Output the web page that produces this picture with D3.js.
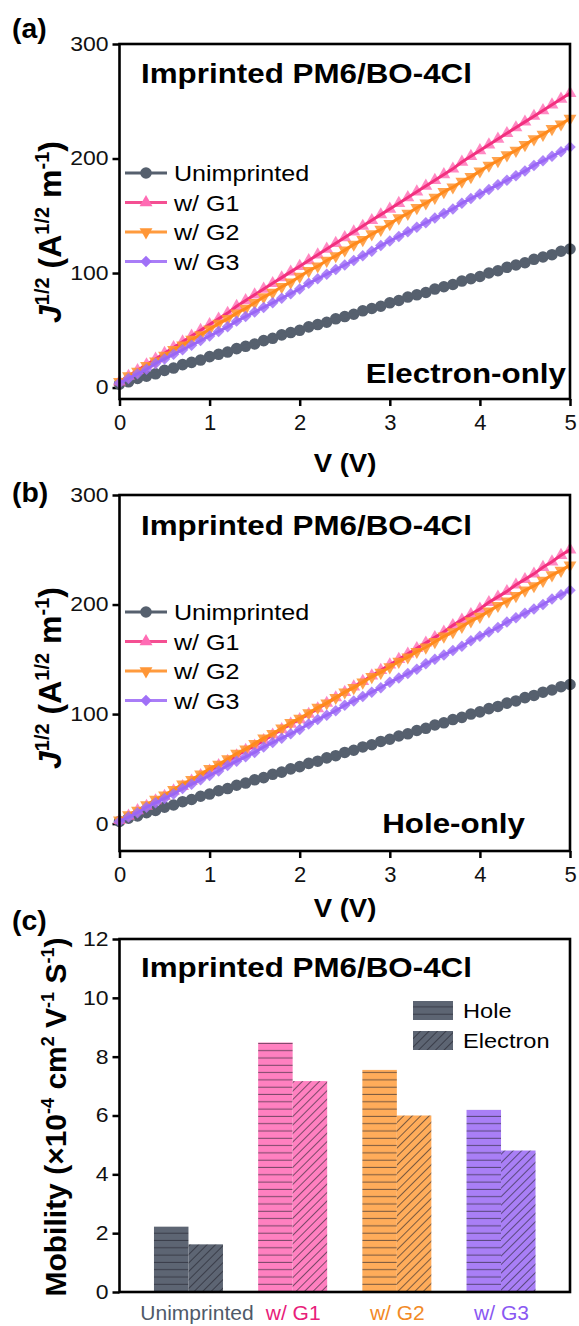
<!DOCTYPE html>
<html><head><meta charset="utf-8">
<script src="https://cdn.jsdelivr.net/npm/d3@7"></script>
<style>body{margin:0;background:#fff}svg{display:block;font-family:Arial,"Liberation Sans",sans-serif}</style>
</head><body>
<svg id="c" width="579" height="1326"></svg>
<script>
// ---------- DATA ----------
const voltage = [0,0.1,0.2,0.3,0.4,0.5,0.6,0.7,0.8,0.9,1.0,1.1,1.2,1.3,1.4,1.5,1.6,1.7,1.8,1.9,2.0,2.1,2.2,2.3,2.4,2.5,2.6,2.7,2.8,2.9,3.0,3.1,3.2,3.3,3.4,3.5,3.6,3.7,3.8,3.9,4.0,4.1,4.2,4.3,4.4,4.5,4.6,4.7,4.8,4.9,5.0];
const seriesNames = ["Unimprinted","w/ G1","w/ G2","w/ G3"];
// Panel (a) electron-only
const elecUnimprinted = [3,5,8,10,12,15,17,20,22,24,27,29,31,34,36,38,41,43,46,48,50,53,55,57,60,62,64,67,69,71,74,76,79,81,83,86,88,90,93,95,97,100,102,105,107,109,112,114,116,119,121];
const elecG1 = [5,10,15,20,25,30,35,40,45,50,55,60,65,71,76,81,86,91,96,101,106,111,116,121,126,131,136,141,146,151,156,161,166,171,176,181,186,191,197,202,207,212,217,222,227,232,237,242,247,252,257];
const elecG2 = [5,10,14,19,23,28,33,37,42,46,51,56,60,65,69,74,79,83,88,92,97,102,106,111,115,120,125,129,134,138,143,148,152,157,161,166,171,175,180,184,189,194,198,203,207,212,217,221,226,230,235];
const elecG3 = [4,8,12,16,21,25,29,33,37,41,45,49,53,58,62,66,70,74,78,82,86,91,95,99,103,107,111,115,119,124,128,132,136,140,144,148,152,156,161,165,169,173,177,181,185,189,194,198,202,206,210];
// Panel (b) hole-only
const holeUnimprinted = [2,5,7,10,12,15,17,20,22,25,27,30,32,35,37,40,42,45,47,50,52,55,57,60,62,65,67,70,72,75,77,80,82,85,87,90,92,95,97,100,102,105,107,110,112,115,117,120,122,125,127];
const holeG1 = [3,7,12,16,21,25,30,34,39,44,48,53,57,62,67,71,76,81,86,91,95,100,105,110,115,120,125,130,135,140,145,150,155,160,165,170,175,181,186,191,196,202,207,212,218,223,228,234,239,245,250];
const holeG2 = [3,8,12,17,22,26,31,36,40,45,50,54,59,64,68,73,78,82,87,92,96,101,106,110,115,120,124,129,134,138,143,148,152,157,161,166,171,175,180,185,189,194,199,203,208,213,217,222,227,231,236];
const holeG3 = [2,6,10,15,19,23,27,32,36,40,44,48,53,57,61,65,70,74,78,82,86,91,95,99,103,108,112,116,120,124,129,133,137,141,146,150,154,158,162,167,171,175,179,184,188,192,196,200,205,209,213];
// Panel (c) mobility (x10^-4 cm2 V-1 s-1)
const mobCategories = ["Unimprinted","w/ G1","w/ G2","w/ G3"];
const mobHole = [2.22,8.48,7.55,6.19];
const mobElectron = [1.62,7.17,6.0,4.81];
const jvTicksY = [0,100,200,300];
const jvTicksX = [0,1,2,3,4,5];
const mobTicksY = [0,2,4,6,8,10,12];

// ---------- STYLE ----------
const markerFill = ["#56606e","#ff6cb4","#ff9636","#a070f7"];
const lineColor = ["#56606e","#f2307f","#ff8a1c","#9a66f6"];
const markerOpacity = [1,0.8,0.88,0.85];
const symbols = ["circle","up","down","diamond"];
const barColor = ["#5d6573","#ff80c0","#ffac5a","#a97ff6"];
const labelColor = ["#4f5a69","#e8207a","#f28a26","#8a58f2"];

const svg = d3.select("#c");
const defs = svg.append("defs");
barColor.forEach((c,i)=>{
  const ph = defs.append("pattern").attr("id","ph"+i).attr("patternUnits","userSpaceOnUse")
    .attr("width",8).attr("height",7.3);
  ph.append("rect").attr("width",8).attr("height",7.3).attr("fill",c);
  ph.append("line").attr("x1",0).attr("x2",8).attr("y1",6.8).attr("y2",6.8)
    .attr("stroke","rgba(35,35,45,0.6)").attr("stroke-width",1.1);
  const pd = defs.append("pattern").attr("id","pd"+i).attr("patternUnits","userSpaceOnUse")
    .attr("width",6).attr("height",6).attr("patternTransform","rotate(45)");
  pd.append("rect").attr("width",6).attr("height",6).attr("fill",c);
  pd.append("line").attr("x1",0.5).attr("x2",0.5).attr("y1",0).attr("y2",6)
    .attr("stroke","rgba(35,35,45,0.6)").attr("stroke-width",1);
});

function stext(g,x,y,str,size,weight,sx,anchor,fill){
  return g.append("text").attr("transform",`translate(${x},${y}) scale(${sx},1)`)
    .attr("text-anchor",anchor||"start").attr("font-size",size).attr("font-weight",weight||"normal")
    .attr("fill",fill||"#000").text(str);
}
function symPath(k){
  if(k==="circle") return d3.symbol(d3.symbolCircle,105)();
  if(k==="up"||k==="down") return d3.symbol(d3.symbolTriangle,72)();
  return d3.symbol(d3.symbolSquare,66)();
}
function symRot(k){ return k==="down"?180:(k==="diamond"?45:0); }

function ylabelJ(x,y){
  const t = svg.append("text").attr("transform",`translate(${x},${y}) rotate(-90)`)
    .attr("text-anchor","middle").attr("font-size",32).attr("font-weight","bold");
  t.append("tspan").attr("font-style","italic").text("J");
  t.append("tspan").attr("font-size",20).attr("dy",-12).text("1/2");
  t.append("tspan").attr("dy",12).text(" (A");
  t.append("tspan").attr("font-size",20).attr("dy",-12).text("1/2");
  t.append("tspan").attr("dy",12).text(" m");
  t.append("tspan").attr("font-size",20).attr("dy",-12).text("-1");
  t.append("tspan").attr("dy",12).text(")");
}

function jvPanel(opt){
  const x = d3.scaleLinear([0,5],[119.5,570]);
  const y = d3.scaleLinear(opt.ydom,opt.yr);
  const g = svg.append("g");
  // axes
  const ax = g.append("g").attr("transform",`translate(0,${opt.yr[0]})`)
    .call(d3.axisBottom(x).tickValues(jvTicksX).tickSize(7).tickPadding(8).tickFormat(d3.format("d")));
  ax.select(".domain").remove();
  ax.selectAll("line").attr("stroke","#000").attr("stroke-width",2.5);
  ax.selectAll("text").attr("font-size",22).attr("fill","#111").attr("font-family","Arial, 'Liberation Sans', sans-serif");
  const ay = g.append("g").attr("transform","translate(119.5,0)")
    .call(d3.axisLeft(y).tickValues(jvTicksY).tickSize(7).tickFormat(d3.format("d")));
  ay.select(".domain").remove();
  ay.selectAll("line").attr("stroke","#000").attr("stroke-width",2.5);
  ay.selectAll("text").attr("font-size",20).attr("fill","#111").attr("x",-11/1.15)
    .attr("transform","scale(1.15,1)").attr("font-family","Arial, 'Liberation Sans', sans-serif");
  // data
  opt.series.forEach((vals,i)=>{
    const pts = voltage.map((v,j)=>[v,vals[j]]);
    g.append("g").selectAll("path").data(pts).join("path")
      .attr("d",symPath(symbols[i]))
      .attr("transform",d=>`translate(${x(d[0])},${y(d[1])}) rotate(${symRot(symbols[i])})`)
      .attr("fill",markerFill[i]).attr("fill-opacity",markerOpacity[i]);
    g.append("path").datum(pts).attr("d",d3.line().x(d=>x(d[0])).y(d=>y(d[1])))
      .attr("fill","none").attr("stroke",lineColor[i]).attr("stroke-width",3);
  });
  // frame
  g.append("rect").attr("x",119.5).attr("y",opt.yr[1]).attr("width",570-119.5).attr("height",opt.yr[0]-opt.yr[1])
    .attr("fill","none").attr("stroke","#000").attr("stroke-width",2.6);
  // legend
  seriesNames.forEach((n,i)=>{
    const ly = opt.legY + i*29.5;
    g.append("line").attr("x1",125).attr("x2",167).attr("y1",ly).attr("y2",ly)
      .attr("stroke",lineColor[i]).attr("stroke-width",3.2).attr("stroke-opacity",i===0?1:0.85);
    g.append("path").attr("d",symPath(symbols[i])).attr("transform",`translate(146,${ly}) rotate(${symRot(symbols[i])})`)
      .attr("fill",markerFill[i]);
    stext(g,174,ly+8,n,22,"normal",1.14,"start","#000");
  });
  stext(g,141,opt.titleY,"Imprinted PM6/BO-4Cl",28,"bold",1.12,"start");
  stext(g,opt.tagX,opt.tagY,opt.tag,28,"bold",1.12,"end");
  stext(g,12,opt.panelY,opt.panel,27,"bold",1.05,"start");
  stext(g,345,opt.xlabY,"V (V)",25,"bold",1.1,"middle");
  ylabelJ(opt.ylabX,opt.ylabY);
}

jvPanel({ydom:[-10,300],yr:[399,44],series:[elecUnimprinted,elecG1,elecG2,elecG3],legY:173,
  titleY:83,tag:"Electron-only",tagX:566,tagY:383,panel:"(a)",panelY:38,xlabY:472,ylabX:61,ylabY:232});
jvPanel({ydom:[-25,300],yr:[851,495],series:[holeUnimprinted,holeG1,holeG2,holeG3],legY:612,
  titleY:535,tag:"Hole-only",tagX:525,tagY:833,panel:"(b)",panelY:502,xlabY:917,ylabX:61,ylabY:678});

// ---------- Panel (c) ----------
(function(){
  const g = svg.append("g");
  const x = d3.scalePoint(mobCategories,[119.5,570]).padding(0.662);
  const sub = d3.scaleBand(["Hole","Electron"],[-34.5,34.5]);
  const y = d3.scaleLinear([0,12],[1292,939]);
  mobCategories.forEach((c,i)=>{
    g.append("rect").attr("x",x(c)+sub("Hole")).attr("width",sub.bandwidth())
      .attr("y",y(mobHole[i])).attr("height",y(0)-y(mobHole[i])).attr("fill",`url(#ph${i})`);
    g.append("rect").attr("x",x(c)+sub("Electron")).attr("width",sub.bandwidth())
      .attr("y",y(mobElectron[i])).attr("height",y(0)-y(mobElectron[i])).attr("fill",`url(#pd${i})`);
  });
  const ay = g.append("g").attr("transform","translate(119.5,0)")
    .call(d3.axisLeft(y).tickValues(mobTicksY).tickSize(7).tickFormat(d3.format("d")));
  ay.select(".domain").remove();
  ay.selectAll("line").attr("stroke","#000").attr("stroke-width",2.5);
  ay.selectAll("text").attr("font-size",20).attr("fill","#111").attr("x",-11/1.15)
    .attr("transform","scale(1.15,1)").attr("font-family","Arial, 'Liberation Sans', sans-serif");
  const ax = g.append("g").attr("transform","translate(0,1292)")
    .call(d3.axisBottom(x).tickSize(0).tickPadding(13));
  ax.select(".domain").remove();
  ax.selectAll("text").attr("font-size",21).attr("font-family","Arial, 'Liberation Sans', sans-serif")
    .attr("fill",(d,i)=>labelColor[i]).attr("dx",(d,i)=>i===0?8:0);
  g.append("rect").attr("x",119.5).attr("y",939).attr("width",570-119.5).attr("height",1292-939)
    .attr("fill","none").attr("stroke","#000").attr("stroke-width",2.6);
  // legend
  [["Hole","ph0"],["Electron","pd0"]].forEach((d,i)=>{
    g.append("rect").attr("x",413).attr("y",1001+i*30).attr("width",40).attr("height",19).attr("fill",`url(#${d[1]})`);
    stext(g,463,1018+i*30,d[0],20,"normal",1.18,"start","#000");
  });
  stext(g,141,977,"Imprinted PM6/BO-4Cl",28,"bold",1.12,"start");
  stext(g,12,930,"(c)",27,"bold",1.05,"start");
  const t = svg.append("text").attr("transform",`translate(66,1117) rotate(-90)`)
    .attr("text-anchor","middle").attr("font-size",30).attr("font-weight","bold");
  t.append("tspan").text("Mobility (×10");
  t.append("tspan").attr("font-size",18).attr("dy",-12).text("-4");
  t.append("tspan").attr("dy",12).text(" cm");
  t.append("tspan").attr("font-size",18).attr("dy",-12).text("2");
  t.append("tspan").attr("dy",12).text(" V");
  t.append("tspan").attr("font-size",18).attr("dy",-12).text("-1");
  t.append("tspan").attr("dy",12).text(" S");
  t.append("tspan").attr("font-size",18).attr("dy",-12).text("-1");
  t.append("tspan").attr("dy",12).text(")");
})();
</script>
</body></html>
